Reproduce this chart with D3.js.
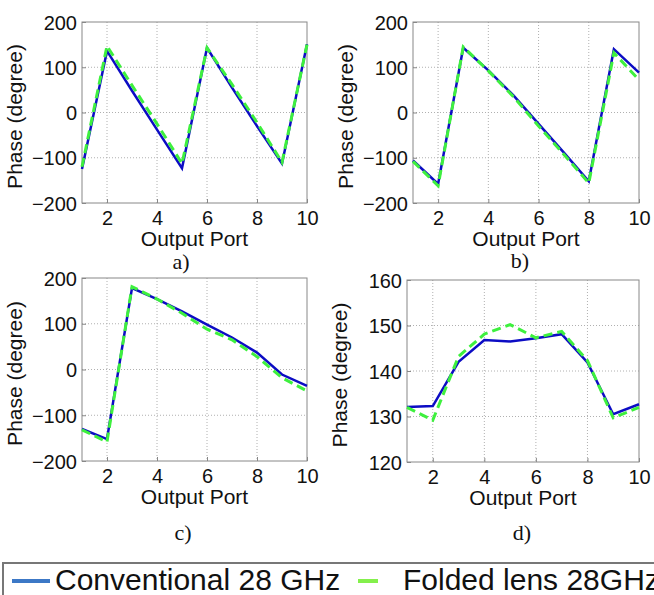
<!DOCTYPE html>
<html lang="en">
<head>
<meta charset="utf-8"/>
<title>Phase vs output port</title>
<script src="https://d3js.org/d3.v7.min.js"></script>
<style>
    body { margin: 0; background: #fff; }
    svg text { font-family: "Liberation Sans", Arial, sans-serif; fill: #111; }
</style>
</head>
<body>
<script>
    // output ports on the x axis
    const ports = [1, 2, 3, 4, 5, 6, 7, 8, 9, 10];

    // phase values (degree)
    const convA = [-125, 136, 48, -38, -123, 143, 55, -30, -113, 151];
    const foldA = [-120, 147, 60, -25, -113, 143, 62, -22, -110, 150];

    const convB = [-106, -158, 143, 93, 38, -25, -88, -152, 140, 88];
    const foldB = [-108, -162, 145, 92, 35, -30, -92, -156, 132, 72];

    const convC = [-130, -152, 178, 154, 127, 98, 70, 37, -11, -36];
    const foldC = [-132, -158, 181, 154, 123, 88, 65, 28, -18, -47];

    const convD = [132.1, 132.3, 142.0, 146.8, 146.5, 147.2, 148.1, 141.9, 130.5, 132.7];
    const foldD = [132.0, 129.2, 143.2, 148.1, 150.2, 147.3, 148.7, 142.3, 129.7, 132.0];

    const xTicks = [2, 4, 6, 8, 10];
    const yTicksWide = [-200, -100, 0, 100, 200];
    const yTicksNarrow = [120, 130, 140, 150, 160];

    const legendNames = ["Conventional 28 GHz", "Folded lens 28GHz"];

    const blue = "#0c0cc4";
    const green = "#3ef03e";

    const svg = d3.select("body").append("svg")
        .attr("width", 654)
        .attr("height", 595);

    // one subplot, box is the plot area in pixels
    function drawPanel(box, conv, fold, yDomain, yTicks, tag) {
        const x = d3.scaleLinear().domain([1, 10]).range([box.left, box.right]);
        const y = d3.scaleLinear().domain(yDomain).range([box.bottom, box.top]);
        const g = svg.append("g");

        // dotted grid
        g.selectAll(".gx").data(xTicks.slice(0, -1)).enter().append("line")
            .attr("x1", d => x(d)).attr("x2", d => x(d))
            .attr("y1", box.top).attr("y2", box.bottom)
            .attr("stroke", "#b0b0b0").attr("stroke-dasharray", "1,2");
        g.selectAll(".gy").data(yTicks.slice(1, -1)).enter().append("line")
            .attr("x1", box.left).attr("x2", box.right)
            .attr("y1", d => y(d)).attr("y2", d => y(d))
            .attr("stroke", "#b0b0b0").attr("stroke-dasharray", "1,2");

        // axes with labels, ticks pointing inward like matlab
        const ax = g.append("g").attr("transform", `translate(0,${box.bottom})`)
            .call(d3.axisBottom(x).tickValues(xTicks).tickSizeInner(-4).tickSizeOuter(0).tickPadding(3));
        const ay = g.append("g").attr("transform", `translate(${box.left},0)`)
            .call(d3.axisLeft(y).tickValues(yTicks).tickSizeInner(-4).tickSizeOuter(0).tickPadding(5));
        for (const a of [ax, ay]) {
            a.select(".domain").remove();
            a.selectAll("line").attr("stroke", "#888");
            a.selectAll("text").style("font-size", "20px").attr("fill", "#111");
        }
        ax.selectAll("text").attr("dy", "0.95em");
        ay.selectAll("text").attr("dy", "0.36em");

        g.append("rect")
            .attr("x", box.left).attr("y", box.top)
            .attr("width", box.right - box.left).attr("height", box.bottom - box.top)
            .attr("fill", "none").attr("stroke", "#888");

        const line = d3.line().x((d, i) => x(ports[i])).y(d => y(d));
        g.append("path").datum(conv).attr("d", line)
            .attr("fill", "none").attr("stroke", blue).attr("stroke-width", 2.5);
        g.append("path").datum(fold).attr("d", line)
            .attr("fill", "none").attr("stroke", green).attr("stroke-width", 3)
            .attr("stroke-dasharray", "9,5");

        // titles
        g.append("text")
            .attr("x", (box.left + box.right) / 2).attr("y", box.bottom + 43)
            .attr("text-anchor", "middle").style("font-size", "21px")
            .text("Output Port");
        g.append("text")
            .attr("transform", `translate(${box.left - 60},${(box.top + box.bottom) / 2 + 4}) rotate(-90)`)
            .attr("text-anchor", "middle").style("font-size", "21px")
            .text("Phase (degree)");
        g.append("text")
            .attr("x", box.tagX).attr("y", box.tagY)
            .attr("text-anchor", "middle")
            .style("font-family", "'Liberation Serif', 'Times New Roman', serif")
            .style("font-size", "22px")
            .text(tag);
    }

    drawPanel({left: 82, right: 307, top: 22, bottom: 203, tagX: 181, tagY: 269},
        convA, foldA, [-200, 200], yTicksWide, "a)");
    drawPanel({left: 413, right: 639, top: 22, bottom: 203, tagX: 520, tagY: 268},
        convB, foldB, [-200, 200], yTicksWide, "b)");
    drawPanel({left: 82, right: 307, top: 278, bottom: 461, tagX: 183, tagY: 540},
        convC, foldC, [-200, 200], yTicksWide, "c)");
    drawPanel({left: 407, right: 639, top: 280, bottom: 462, tagX: 522, tagY: 540},
        convD, foldD, [120, 160], yTicksNarrow, "d)");

    // legend strip at the bottom, cut by the page edge
    const lg = svg.append("g");
    lg.append("rect")
        .attr("x", 3).attr("y", 563).attr("width", 700).attr("height", 60)
        .attr("fill", "#fff").attr("stroke", "#777").attr("stroke-width", 2);
    lg.append("line").attr("x1", 12).attr("x2", 50).attr("y1", 581).attr("y2", 581)
        .attr("stroke", "#3c78c6").attr("stroke-width", 4);
    lg.append("text").attr("x", 55).attr("y", 590).style("font-size", "30px")
        .text(legendNames[0]);
    lg.append("line").attr("x1", 358).attr("x2", 378).attr("y1", 581).attr("y2", 581)
        .attr("stroke", "#84f04c").attr("stroke-width", 4);
    lg.append("text").attr("x", 403).attr("y", 590).style("font-size", "30px")
        .text(legendNames[1]);
</script>
</body>
</html>
